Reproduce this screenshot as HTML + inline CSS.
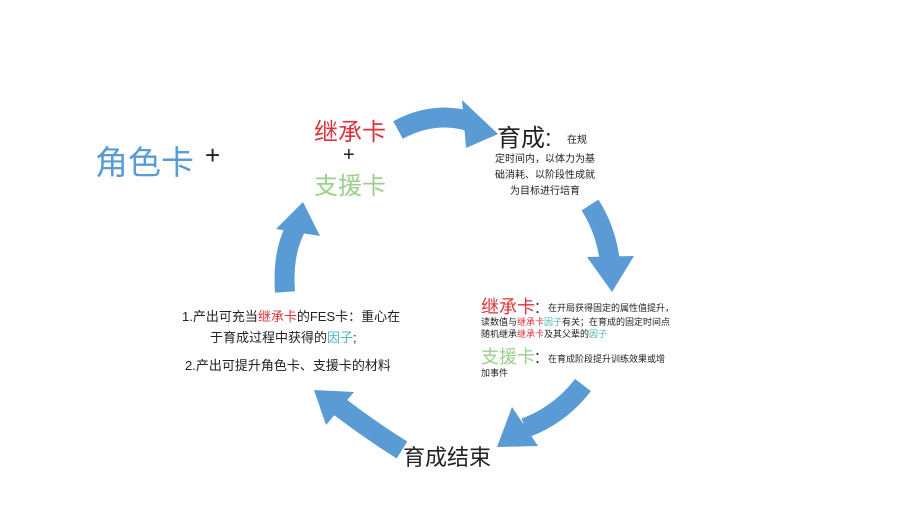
<!DOCTYPE html>
<html><head><meta charset="utf-8"><style>
body{margin:0;width:900px;height:506px;background:#fff;position:relative;overflow:hidden;font-family:"Liberation Sans","Noto Sans CJK SC",sans-serif;color:#222}
.a{position:absolute;white-space:nowrap}
.r{color:#d9343c}.g{color:#9ccf8c}.c{color:#4bb5c9}
</style></head><body>
<svg width="900" height="506" style="position:absolute;left:0;top:0">
<g fill="none" stroke="#5b9bd5" stroke-width="20">
<path d="M398 130 Q435 110 472 122"/>
<path d="M590 205 Q606 230 610 262"/>
<path d="M583 385 Q560 415 525 428"/>
<path d="M402 450 Q370 430 340 407"/>
<path d="M285 292 Q282 250 298 224"/>
</g>
<g fill="#5b9bd5">
<polygon points="498,134 462,100 466,148"/>
<polygon points="612,292 587,257 634,256"/>
<polygon points="497,447 512,407 538,446"/>
<polygon points="314,390 354,392 326,425"/>
<polygon points="303,202 276,229 320,236"/>
</g>
</svg>
<div class="a" style="left:95px;top:136px;font-size:33px;color:#5b9bd5">角色卡</div>
<div class="a" style="left:205px;top:140px;font-size:26px">+</div>
<div class="a r" style="left:314px;top:112px;font-size:24px">继承卡</div>
<div class="a" style="left:343px;top:144px;font-size:20px">+</div>
<div class="a g" style="left:314px;top:166px;font-size:24px">支援卡</div>
<div class="a" style="left:497px;top:118px;font-size:24px">育成:</div>
<div class="a" style="left:567px;top:131px;font-size:10px">在规</div>
<div class="a" style="left:495px;top:152px;font-size:10px;line-height:16px;text-align:center;width:100px;white-space:normal">定时间内，以体力为基础消耗、以阶段性成就为目标进行培育</div>
<div class="a r" style="left:481px;top:293px;font-size:18px">继承卡<span style="color:#222">:</span></div>
<div class="a" style="left:548px;top:301px;font-size:9px">在开局获得固定的属性值提升，</div>
<div class="a" style="left:481px;top:316px;font-size:9px;line-height:12px">读数值与<span class="r">继承卡</span><span class="c">因子</span>有关；在育成的固定时间点<br>随机继承<span class="r">继承卡</span>及其父辈的<span class="c">因子</span></div>
<div class="a g" style="left:481px;top:343px;font-size:18px">支援卡<span style="color:#222">:</span></div>
<div class="a" style="left:548px;top:352px;font-size:9px">在育成阶段提升训练效果或增</div>
<div class="a" style="left:481px;top:366px;font-size:9px">加事件</div>
<div class="a" style="left:182px;top:306px;font-size:13px">1.产出可充当<span class="r">继承卡</span>的FES卡：重心在</div>
<div class="a" style="left:210px;top:327px;font-size:13px">于育成过程中获得的<span class="c">因子</span>;</div>
<div class="a" style="left:185px;top:355px;font-size:13px">2.产出可提升角色卡、支援卡的材料</div>
<div class="a" style="left:403px;top:440px;font-size:22px">育成结束</div>
</body></html>
